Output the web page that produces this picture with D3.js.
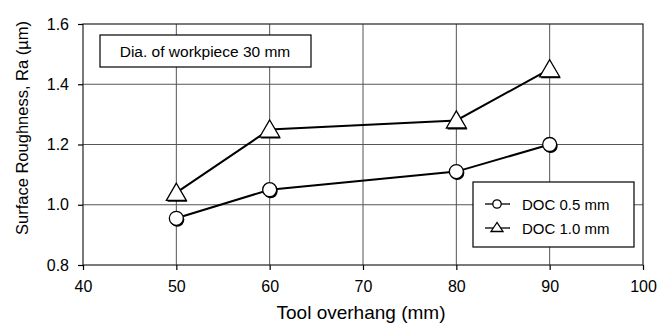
<!DOCTYPE html>
<html>
<head>
<meta charset="utf-8">
<script src="https://cdn.jsdelivr.net/npm/d3@7"></script>
<style>
body { margin: 0; background: #fff; }
text { font-family: "Liberation Sans", Arial, sans-serif; fill: #000; }
</style>
</head>
<body>
<div id="container"></div>
<script>
// data
var overhang = [50, 60, 80, 90];
var doc05 = [0.955, 1.05, 1.11, 1.20];
var doc10 = [1.04, 1.25, 1.28, 1.45];
var xTicks = [40, 50, 60, 70, 80, 90, 100];
var yTicks = [0.8, 1.0, 1.2, 1.4, 1.6];
var seriesNames = ["DOC 0.5 mm", "DOC 1.0 mm"];

var w = 662, h = 331;
var pLeft = 83, pRight = 643, pTop = 24, pBottom = 265;

var svg = d3.select("#container").append("svg")
    .attr("width", w).attr("height", h);

var x = d3.scaleLinear().domain([40, 100]).range([pLeft, pRight]);
var y = d3.scaleLinear().domain([0.8, 1.6]).range([pBottom, pTop]);

// grid
svg.append("g").selectAll("line").data(xTicks.slice(1, -1)).enter().append("line")
    .attr("x1", d => x(d)).attr("x2", d => x(d))
    .attr("y1", pTop).attr("y2", pBottom)
    .attr("stroke", "#555").attr("stroke-width", 1);
svg.append("g").selectAll("line").data(yTicks.slice(1, -1)).enter().append("line")
    .attr("x1", pLeft).attr("x2", pRight)
    .attr("y1", d => y(d)).attr("y2", d => y(d))
    .attr("stroke", "#555").attr("stroke-width", 1);

// frame
svg.append("rect").attr("x", pLeft).attr("y", pTop)
    .attr("width", pRight - pLeft).attr("height", pBottom - pTop)
    .attr("fill", "none").attr("stroke", "#222").attr("stroke-width", 1.2);

// axes
var xAxis = svg.append("g").attr("transform", "translate(0," + pBottom + ")")
    .call(d3.axisBottom(x).tickValues(xTicks).tickSize(5).tickPadding(11));
var yAxis = svg.append("g").attr("transform", "translate(" + pLeft + ",0)")
    .call(d3.axisLeft(y).tickValues(yTicks).tickSize(5).tickPadding(9).tickFormat(d3.format(".1f")));
[xAxis, yAxis].forEach(function (a) {
    a.select(".domain").remove();
    a.selectAll("line").attr("stroke", "#000").attr("stroke-width", 1.2);
    a.selectAll("text").style("font-size", "16px")
        .style("font-family", "Liberation Sans, Arial, sans-serif");
});

// axis titles
svg.append("text").attr("x", 361).attr("y", 319)
    .attr("text-anchor", "middle").style("font-size", "19px")
    .text("Tool overhang (mm)");
svg.append("text").attr("transform", "translate(28,128) rotate(-90)")
    .attr("text-anchor", "middle").style("font-size", "16.5px")
    .text("Surface Roughness, Ra (\u00b5m)");

var line = d3.line().x(d => x(d[0])).y(d => y(d[1]));

function circleMark(g, cx, cy, r) {
    g.append("circle").attr("cx", cx + 1).attr("cy", cy + 1.5).attr("r", r).attr("fill", "#000");
    g.append("circle").attr("cx", cx).attr("cy", cy).attr("r", r)
        .attr("fill", "#fff").attr("stroke", "#000").attr("stroke-width", 1.3);
}
function triMark(g, cx, cy, s) {
    var pts = function (ox, oy) {
        return [[cx + ox, cy + oy - s], [cx + ox - s * 1.05, cy + oy + s * 0.8], [cx + ox + s * 1.05, cy + oy + s * 0.8]]
            .map(p => p.join(",")).join(" ");
    };
    g.append("polygon").attr("points", pts(1, 1.5)).attr("fill", "#000");
    g.append("polygon").attr("points", pts(0, 0))
        .attr("fill", "#fff").attr("stroke", "#000").attr("stroke-width", 1.3);
}

var dataA = overhang.map((v, i) => [v, doc05[i]]);
var dataB = overhang.map((v, i) => [v, doc10[i]]);

svg.append("path").attr("d", line(dataA)).attr("fill", "none").attr("stroke", "#000").attr("stroke-width", 2);
svg.append("path").attr("d", line(dataB)).attr("fill", "none").attr("stroke", "#000").attr("stroke-width", 2);

var marks = svg.append("g");
dataA.forEach(d => circleMark(marks, x(d[0]), y(d[1]), 7));
dataB.forEach(d => triMark(marks, x(d[0]), y(d[1]), 9.5));

// annotation box
svg.append("rect").attr("x", 100).attr("y", 35).attr("width", 211).attr("height", 32)
    .attr("fill", "#fff").attr("stroke", "#000").attr("stroke-width", 1.2);
svg.append("text").attr("x", 205).attr("y", 57).attr("text-anchor", "middle")
    .style("font-size", "15.5px").text("Dia. of workpiece 30 mm");

// legend
var lg = svg.append("g");
lg.append("rect").attr("x", 473).attr("y", 182).attr("width", 161).attr("height", 65)
    .attr("fill", "#fff").attr("stroke", "#000").attr("stroke-width", 1.2);
seriesNames.forEach(function (name, i) {
    var ly = 204 + i * 24;
    lg.append("line").attr("x1", 485).attr("x2", 510).attr("y1", ly).attr("y2", ly)
        .attr("stroke", "#000").attr("stroke-width", 1.3);
    if (i === 0) {
        lg.append("circle").attr("cx", 497).attr("cy", ly).attr("r", 4.2)
            .attr("fill", "#fff").attr("stroke", "#000").attr("stroke-width", 1.3);
    } else {
        lg.append("polygon").attr("points", [[497, ly - 5.5], [491, ly + 3.5], [503, ly + 3.5]].map(p => p.join(",")).join(" "))
            .attr("fill", "#fff").attr("stroke", "#000").attr("stroke-width", 1.3);
    }
    lg.append("text").attr("x", 522).attr("y", ly + 5.5).style("font-size", "15px").text(name);
});
</script>
</body>
</html>
